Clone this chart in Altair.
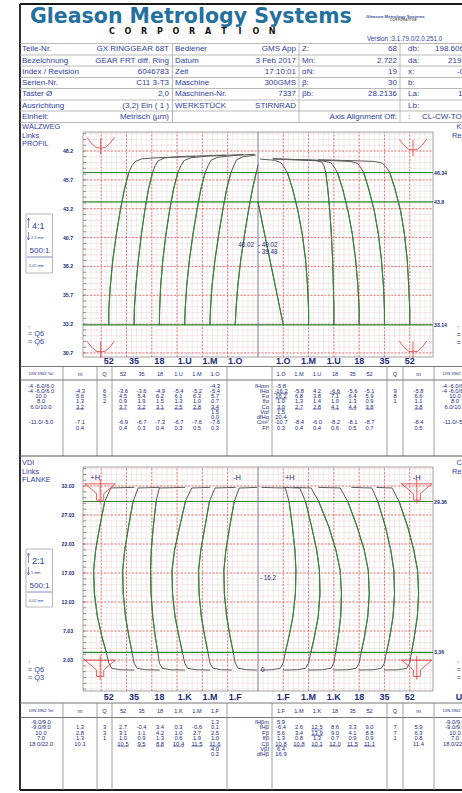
import altair as alt
import numpy as np
import pandas as pd

W, H = 462, 793
FONT = "Liberation Sans"
NAVY = "#1d2b7e"
BLUE = "#2f42a0"
TITLE_BLUE = "#24709e"
GREEN = "#2e8b36"
TRACE = "#5a5a5a"
RED = "#e24b4b"
MINOR = "#e6d3d3"

# ---------------- report header ----------------
HEAD_ROWS = [49, 60.5, 71.5, 83, 94, 105.5, 116.5]
HEAD_LINES = [43.5, 55, 66, 77.5, 88.5, 100, 111, 122.5]
PART_LABELS = ["Teile-Nr.", "Bezeichnung", "Index / Revision", "Serien-Nr.", "Taster Ø", "Ausrichtung", "Einheit:"]
PART_VALUES = ["GX RINGGEAR 68T", "GEAR FRT diff. Ring", "6046783", "C11 3-T3", "2,0", "(3,2) Ein ( 1 )", "Metrisch (µm)"]
RUN_LABELS = ["Bediener", "Datum", "Zeit", "Maschine", "Maschinen-Nr.", "WERKSTÜCK", ""]
RUN_VALUES = ["GMS App", "3 Feb 2017", "17:10:01", "300GMS", "7337", "STIRNRAD", ""]
GEAR_LABELS = ["Z:", "Mn:", "αN:", "β:", "βb:", "", ""]
GEAR_VALUES = ["68", "2.722", "19", "30", "28.2136", "", "Axis Alignment Off:"]
DIM_LABELS = ["db:", "da:", "x:", "b:", "La:", "Lb:", ":"]
DIM_VALUES = ["198.6068", "219.32", "-0.10", "", "14", "", "CL-CW-TOOTH"]
DIM_VALUE_X = [435, 448, 457, 457, 458, 458, 422]
VERSION = "Version :3.1.79.0/2.0.251.0"

# ---------------- profile diagram (upper) ----------------
PROFILE_TICKS = [48.2, 45.7, 43.2, 40.7, 38.2, 35.7, 33.2, 30.7]
PROFILE_LIMITS = [46.34, 43.8, 33.14]
PROFILE_LEFT_NAMES = ["52", "35", "18", "1.U", "1.M", "1.O"]
PROFILE_RIGHT_NAMES = ["1.O", "1.M", "1.U", "18", "35", "52"]
LEFT_BASES = [-5.9, -4.9, -3.9, -2.9, -1.9, -0.9]
RIGHT_BASES = [1, 2, 3, 4, 5, 6]
LEFT_GRID = [-6.2, -5.2, -4.2, -3.2, -2.2, -1.2]
RIGHT_GRID = [1, 2, 3, 4, 5, 6]
PROFILE_CENTER_LEFT = 40.02
PROFILE_CENTER_RIGHT = [40.02, 39.48]

# (deviation, roll length) per tooth
PROFILE_LEFT_TRACES = [
    [(0.00, 33.14), (0.00, 34.5), (0.06, 36.5), (0.16, 38.8), (0.30, 41.0), (0.45, 43.0), (0.62, 44.9), (0.79, 46.34), (0.92, 46.95), (1.05, 47.3), (1.30, 47.52), (1.90, 47.62), (3.40, 47.72)],
    [(0.00, 33.14), (0.01, 34.5), (0.07, 36.5), (0.17, 38.8), (0.29, 41.0), (0.42, 43.0), (0.57, 44.9), (0.73, 46.34), (0.84, 46.95), (0.95, 47.35), (1.20, 47.6), (1.80, 47.72), (3.60, 47.85)],
    [(0.00, 33.14), (0.01, 34.5), (0.05, 36.5), (0.14, 38.8), (0.26, 41.0), (0.40, 43.0), (0.56, 44.9), (0.73, 46.34), (0.86, 46.95), (0.98, 47.38), (1.25, 47.62), (1.90, 47.76), (3.30, 47.9)],
    [(0.00, 33.14), (0.02, 34.5), (0.08, 36.5), (0.19, 38.8), (0.33, 41.0), (0.48, 43.0), (0.64, 44.9), (0.81, 46.34), (0.93, 46.95), (1.04, 47.4), (1.30, 47.66), (1.90, 47.8), (2.75, 47.92)],
    [(0.00, 33.14), (0.02, 34.5), (0.08, 36.5), (0.20, 38.8), (0.35, 41.0), (0.50, 43.0), (0.66, 44.9), (0.83, 46.34), (0.95, 46.95), (1.05, 47.45), (1.30, 47.7), (1.80, 47.85)],
    [(0.00, 33.14), (0.03, 34.5), (0.10, 36.5), (0.22, 38.8), (0.37, 41.0), (0.52, 43.0), (0.68, 44.9), (0.83, 46.34), (0.90, 47.0)],
]
PROFILE_RIGHT_TRACES = [
    [(0.00, 33.14), (-0.10, 34.2), (-0.24, 35.7), (-0.40, 37.4), (-0.57, 39.2), (-0.74, 41.0), (-0.88, 42.5), (-1.00, 43.8)],
    [(0.00, 33.14), (0.00, 34.5), (-0.04, 36.5), (-0.12, 38.8), (-0.25, 41.0), (-0.42, 43.0), (-0.63, 44.9), (-0.84, 46.34), (-0.98, 46.85), (-1.10, 47.2), (-1.35, 47.4), (-1.90, 47.5)],
    [(0.00, 33.14), (0.00, 34.5), (-0.02, 36.5), (-0.05, 38.8), (-0.10, 41.0), (-0.16, 43.0), (-0.24, 44.9), (-0.32, 46.34), (-0.38, 46.85), (-0.46, 47.22), (-0.70, 47.38), (-1.40, 47.45), (-2.40, 47.55)],
    [(0.00, 33.14), (0.00, 34.5), (-0.05, 36.5), (-0.14, 38.8), (-0.27, 41.0), (-0.44, 43.0), (-0.65, 44.9), (-0.86, 46.34), (-1.00, 46.85), (-1.12, 47.18), (-1.40, 47.33), (-2.10, 47.4), (-3.40, 47.5)],
    [(0.00, 33.14), (0.00, 34.5), (-0.04, 36.5), (-0.12, 38.8), (-0.24, 41.0), (-0.40, 43.0), (-0.62, 44.9), (-0.82, 46.34), (-0.96, 46.85), (-1.08, 47.15), (-1.35, 47.3), (-2.10, 47.37), (-3.50, 47.47)],
    [(0.00, 33.14), (0.00, 34.5), (-0.04, 36.5), (-0.10, 38.8), (-0.21, 41.0), (-0.36, 43.0), (-0.58, 44.9), (-0.79, 46.34), (-0.95, 46.85), (-1.08, 47.15), (-1.40, 47.3), (-2.20, 47.36), (-3.60, 47.45)],
]

# ---------------- lead diagram (lower) ----------------
LEAD_TICKS = [32.03, 27.03, 22.03, 17.03, 12.03, 7.03, 2.03]
LEAD_LIMITS = [29.36, 3.36]
LEAD_LEFT_NAMES = ["52", "35", "18", "1.K", "1.M", "1.F"]
LEAD_RIGHT_NAMES = ["1.F", "1.M", "1.K", "18", "35", "52"]
LEAD_CENTER = 16.2
LEAD_ZERO = 0.3
LEAD_H_MARKS = [(-6.44, "+H"), (-0.83, "-H"), (1.26, "+H"), (6.28, "-H")]

LEAD_LEFT_TRACES = [
    [(1.00, 31.8), (0.30, 31.72), (0.08, 31.7), (-0.16, 29.36), (-0.36, 25.0), (-0.52, 21.0), (-0.60, 17.5), (-0.57, 13.5), (-0.45, 9.5), (-0.27, 6.0), (-0.10, 3.36), (0.00, 1.5), (0.12, 0.6), (0.45, 0.35), (1.00, 0.3)],
    [(1.00, 31.8), (0.40, 31.72), (0.16, 31.7), (-0.04, 29.36), (-0.22, 25.0), (-0.37, 21.0), (-0.45, 17.5), (-0.43, 13.5), (-0.34, 9.5), (-0.20, 6.0), (-0.08, 3.36), (0.00, 1.5), (0.12, 0.6), (0.45, 0.35), (1.00, 0.3)],
    [(1.00, 31.8), (0.30, 31.72), (0.00, 31.7), (-0.13, 29.36), (-0.24, 25.0), (-0.32, 21.0), (-0.35, 17.5), (-0.33, 13.5), (-0.26, 9.5), (-0.16, 6.0), (-0.06, 3.36), (0.00, 1.5), (0.12, 0.6), (0.45, 0.35), (1.00, 0.3)],
    [(1.00, 31.8), (0.50, 31.72), (0.28, 31.7), (0.03, 29.36), (-0.20, 25.0), (-0.40, 21.0), (-0.50, 17.5), (-0.48, 13.5), (-0.38, 9.5), (-0.22, 6.0), (-0.09, 3.36), (0.00, 1.5), (0.12, 0.6), (0.45, 0.35), (1.00, 0.3)],
    [(1.00, 31.8), (0.45, 31.72), (0.20, 31.7), (-0.02, 29.36), (-0.20, 25.0), (-0.36, 21.0), (-0.45, 17.5), (-0.43, 13.5), (-0.34, 9.5), (-0.20, 6.0), (-0.08, 3.36), (0.00, 1.5), (0.12, 0.6), (0.45, 0.35), (0.85, 0.3)],
    [(0.85, 31.8), (0.40, 31.72), (0.16, 31.7), (-0.04, 29.36), (-0.22, 25.0), (-0.37, 21.0), (-0.45, 17.5), (-0.43, 13.5), (-0.34, 9.5), (-0.20, 6.0), (-0.08, 3.36), (0.00, 1.5), (0.12, 0.6), (0.45, 0.35), (0.85, 0.3)],
]
LEAD_RIGHT_TRACES = [
    [(-0.85, 31.8), (-0.30, 31.72), (0.08, 31.7), (0.23, 29.36), (0.36, 25.0), (0.46, 21.0), (0.50, 17.5), (0.48, 13.5), (0.38, 9.5), (0.22, 6.0), (0.08, 3.36), (0.00, 1.5), (-0.12, 0.6), (-0.45, 0.35), (-0.90, 0.3)],
    [(-1.00, 31.8), (-0.60, 31.72), (-0.35, 31.7), (-0.12, 29.36), (0.12, 25.0), (0.32, 21.0), (0.43, 17.5), (0.45, 13.5), (0.38, 9.5), (0.23, 6.0), (0.09, 3.36), (0.00, 1.5), (-0.12, 0.6), (-0.45, 0.35), (-1.00, 0.3)],
    [(-1.60, 31.8), (-1.10, 31.72), (-0.90, 31.7), (-0.60, 29.36), (-0.20, 25.0), (0.08, 21.0), (0.25, 17.5), (0.30, 13.5), (0.27, 9.5), (0.17, 6.0), (0.07, 3.36), (0.00, 1.5), (-0.12, 0.6), (-0.45, 0.35), (-1.00, 0.3)],
    [(-1.60, 31.8), (-1.00, 31.72), (-0.75, 31.7), (-0.45, 29.36), (-0.08, 25.0), (0.20, 21.0), (0.36, 17.5), (0.40, 13.5), (0.34, 9.5), (0.21, 6.0), (0.08, 3.36), (0.00, 1.5), (-0.12, 0.6), (-0.45, 0.35), (-1.00, 0.3)],
    [(-1.30, 31.8), (-0.80, 31.72), (-0.50, 31.7), (-0.26, 29.36), (0.04, 25.0), (0.25, 21.0), (0.37, 17.5), (0.40, 13.5), (0.34, 9.5), (0.21, 6.0), (0.08, 3.36), (0.00, 1.5), (-0.12, 0.6), (-0.45, 0.35), (-1.00, 0.3)],
    [(-1.30, 31.8), (-0.95, 31.72), (-0.70, 31.7), (-0.42, 29.36), (-0.08, 25.0), (0.16, 21.0), (0.31, 17.5), (0.35, 13.5), (0.30, 9.5), (0.18, 6.0), (0.07, 3.36), (0.00, 1.5), (-0.12, 0.6), (-0.45, 0.35), (-1.00, 0.3)],
]

# tolerance symbols (outline offsets and where they sit)
V_SYMBOL = [(-0.53, 0.9), (-0.38, 0.45), (-0.18, 0.05), (0.0, 0.0), (0.18, 0.05), (0.38, 0.45), (0.53, 0.9)]
V_STEM = [(0.0, 0.85), (0.0, -0.5)]
V_ANCHORS = [(-6.22, 48.45), (-6.22, 30.8), (6.13, 48.3), (6.13, 30.8)]
FUNNEL = [(-0.6, 0.0), (0.6, 0.0), (0.35, -0.9), (0.14, -1.7), (0.14, -2.8), (-0.14, -2.8), (-0.14, -1.7), (-0.35, -0.9), (-0.6, 0.0)]
FUNNEL_STEM = [(0.0, 0.7), (0.0, -3.3)]
FUNNEL_ANCHORS = [(-6.24, 32.4), (-6.24, 2.0), (6.28, 32.4), (6.28, 2.0)]

# ---------------- evaluation tables ----------------
PROFILE_PARAMS = ["fHαm", "fHα", "Fα", "ffα", "Cα", "Vαf", "dfHα", "Cm¹⁾", "Ff!"]
PROFILE_TOL = ["-4 -6.0/6.0", "-4 -6.0/6.0", "10.0", "8.0", "6.0/10.0", "", "", "-11.0/-5.0", ""]
PROFILE_LEFT_VALUES = [
    ["", "", "", "", "", "-4.3"],
    ["-3.6", "-3.6", "-4.9", "-5.4", "-5.2", "-5.4"],
    ["4.5", "5.4", "6.2", "6.1", "6.3", "5.7"],
    ["0.9", "1.9", "1.5", "1.3", "1.0", "0.7"],
    ["3.7", "3.2", "3.1", "2.5", "2.8", "3.4"],
    ["", "", "", "", "", "1.5"],
    ["", "", "", "", "", "0.0"],
    ["-6.9", "-6.7", "-7.3", "-6.7", "-7.6", "-7.6"],
    ["0.4", "0.3", "0.4", "0.3", "0.5", "0.3"],
]
PROFILE_LEFT_M = ["", "-4.3", "5.6", "1.3", "3.2", "", "", "-7.1", "0.4"]
PROFILE_LEFT_Q = ["", "6", "5", "2", "", "", "", "", ""]
PROFILE_RIGHT_VALUES = [
    ["-5.8", "", "", "", "", ""],
    ["-16.2", "-5.8", "4.2", "-6.6", "-5.6", "-5.1"],
    ["16.2", "6.8", "3.8", "7.1", "6.4", "5.9"],
    ["1.0", "1.3", "1.4", "1.0", "1.3", "0.9"],
    ["3.0", "2.7", "2.8", "4.1", "4.4", "3.8"],
    ["1.5", "", "", "", "", ""],
    ["20.4", "", "", "", "", ""],
    ["-10.7", "-8.4", "-6.0", "-8.2", "-8.1", "-8.7"],
    ["0.3", "0.4", "0.4", "0.6", "0.5", "0.7"],
]
PROFILE_RIGHT_M = ["", "-5.8", "6.6", "1.1", "3.8", "", "", "-8.4", "0.5"]
PROFILE_RIGHT_Q = ["", "9", "8", "1", "", "", "", "", ""]
PROFILE_LEFT_MARKED = [(4, c) for c in range(6)] + [(4, "m")]
PROFILE_RIGHT_MARKED = [(4, c) for c in range(6)] + [(1, 0), (2, 0), (1, 3), (4, "m")]

LEAD_PARAMS = ["fHβm", "fHβ", "Fβ", "ffβ", "Cβ", "Vβf", "dfHβ"]
LEAD_TOL = ["-9.0/9.0", "-9.0/9.0", "10.0", "7.0", "18.0/22.0", "", ""]
LEAD_LEFT_VALUES = [
    ["", "", "", "", "", "1.3"],
    ["2.7", "-0.4", "3.4", "0.3", "-0.6", "0.1"],
    ["3.1", "1.1", "4.2", "1.0", "2.7", "2.5"],
    ["1.0", "0.9", "1.3", "0.6", "1.9", "1.0"],
    ["10.5", "9.5", "8.8", "10.4", "11.5", "11.6"],
    ["", "", "", "", "", "4.0"],
    ["", "", "", "", "", "0.2"],
]
LEAD_LEFT_M = ["", "1.3", "2.8", "1.3", "10.1", "", ""]
LEAD_LEFT_Q = ["", "3", "3", "1", "", "", ""]
LEAD_RIGHT_VALUES = [
    ["5.9", "", "", "", "", ""],
    ["-6.4", "2.6", "12.5", "8.6", "3.3", "9.0"],
    ["5.6", "3.4", "13.9", "9.0", "4.1", "8.8"],
    ["1.3", "0.8", "1.3", "0.7", "0.9", "0.9"],
    ["10.8", "10.8", "10.1", "12.0", "11.5", "11.1"],
    ["6.4", "", "", "", "", ""],
    ["16.9", "", "", "", "", ""],
]
LEAD_RIGHT_M = ["", "5.9", "6.3", "0.8", "11.4", "", ""]
LEAD_RIGHT_Q = ["", "7", "7", "1", "", "", ""]
LEAD_LEFT_MARKED = [(4, c) for c in range(6)]
LEAD_RIGHT_MARKED = [(4, c) for c in range(6)] + [(1, 2), (2, 2)]

# ---------------- layout ----------------
LAYOUT_X = ([0, W], [0, W])
LAYOUT_Y = ([0, H], [0, H])
PLOT_X = ([-6.92, 6.92], [83, 433])
PROFILE_Y = ([30.35, 49.85], [357, 132])
LEAD_Y = ([-3.31, 35.31], [691, 467])

COL_LABEL_X = [22, 175, 302, 408]
COL_VALUE_RIGHT = [169, 296, 397]
HEAD_VLINES = [172.5, 299, 400]

TOL_L, M_L, Q_L = 41, 80, 104.5
VALS_L = [123, 141.5, 160, 178.5, 197, 215]
PARAM_RIGHT = 269
VALS_R = [281, 299, 317, 335, 352.5, 369.5]
Q_R, M_R, TOL_R = 395, 418.5, 455
TABLE_VLINES = [63, 97, 112, 227, 272, 387, 403, 434]

layers = []


def scale(spec):
    dom, rng = spec
    return alt.Scale(domain=list(dom), range=list(rng), nice=False, zero=False)


def rules(rows, xs=LAYOUT_X, ys=LAYOUT_Y, color="#555555", width=1.0, dash=None):
    df = pd.DataFrame(list(rows), columns=["x", "y", "x2", "y2"])
    mark = {"color": color, "strokeWidth": width}
    if dash is not None:
        mark["strokeDash"] = dash
    layers.append(
        alt.Chart(df).mark_rule(**mark).encode(
            x=alt.X("x:Q", scale=scale(xs), axis=None),
            y=alt.Y("y:Q", scale=scale(ys), axis=None),
            x2="x2:Q",
            y2="y2:Q",
        )
    )


def texts(rows, size, color=BLUE, xs=LAYOUT_X, ys=LAYOUT_Y, align="center",
          weight="normal", font=FONT, baseline="middle"):
    rows = [r for r in rows if str(r[2]) != ""]
    if not rows:
        return
    df = pd.DataFrame(rows, columns=["x", "y", "t"])
    layers.append(
        alt.Chart(df).mark_text(
            fontSize=size, color=color, align=align, baseline=baseline,
            fontWeight=weight, font=font,
        ).encode(
            x=alt.X("x:Q", scale=scale(xs), axis=None),
            y=alt.Y("y:Q", scale=scale(ys), axis=None),
            text=alt.Text("t:N"),
        )
    )


def paths(rows, xs, ys, color, width, keep=None):
    df = pd.DataFrame(rows, columns=["g", "i", "x", "y"])
    base = alt.Chart(df)
    if keep is not None:
        base = base.transform_filter(f"datum.y >= {keep[0]} && datum.y <= {keep[1]}")
    layers.append(
        base.mark_line(color=color, strokeWidth=width, strokeJoin="round", strokeCap="round").encode(
            x=alt.X("x:Q", scale=scale(xs), axis=None),
            y=alt.Y("y:Q", scale=scale(ys), axis=None),
            detail="g:N",
            order="i:Q",
        )
    )


def trace_rows(tag, bases, shapes):
    rows = []
    for k, (base, shape) in enumerate(zip(bases, shapes)):
        for i, (dev, pos) in enumerate(shape):
            rows.append((f"{tag}{k}", i, base + dev, pos))
    return rows


def symbol_rows(tag, outline, anchors):
    rows = []
    for k, (ax, ay) in enumerate(anchors):
        for i, (dx, dy) in enumerate(outline):
            rows.append((f"{tag}{k}", i, ax + dx, ay + dy))
    return rows


def diagram(ys, ticks, tick_fmt, minor_y, limits, left_traces, right_traces, keep):
    lo, hi = ys[0]
    # fine millimetre grid
    minor_x = np.round(np.arange(-6.8, 6.81, 0.2), 3)
    rules([(x, lo, x, hi) for x in minor_x], PLOT_X, ys, MINOR, 0.5)
    rules([(-6.92, y, 6.92, y) for y in minor_y], PLOT_X, ys, MINOR, 0.5)
    # main grid
    rules([(x, lo, x, hi) for x in LEFT_GRID + RIGHT_GRID], PLOT_X, ys, RED, 0.7, [2, 1.5])
    rules([(-6.92, y, 6.92, y) for y in ticks], PLOT_X, ys, RED, 0.7, [2, 1.5])
    # ruler ticks along the left edge
    rules([(-6.92, y, -6.8, y) for y in minor_y], PLOT_X, ys, "#555555", 0.6)
    # frame and centre line
    rules([(-6.92, lo, 6.92, lo), (-6.92, hi, 6.92, hi), (-6.92, lo, -6.92, hi), (6.92, lo, 6.92, hi)],
          PLOT_X, ys, "#8a8a8a", 0.8)
    rules([(0, lo, 0, hi)], PLOT_X, ys, "#8d8cab", 1.1)
    # evaluation limits
    rules([(-6.92, y, 6.92, y) for y in limits], PLOT_X, ys, GREEN, 1.2)
    # traces: full record in grey, evaluation range in green
    rows = trace_rows("l", LEFT_BASES, left_traces) + trace_rows("r", RIGHT_BASES, right_traces)
    paths(rows, PLOT_X, ys, TRACE, 1.0)
    paths(rows, PLOT_X, ys, GREEN, 1.1, keep)
    # tick labels and limit labels
    texts([(68, v, tick_fmt(v)) for v in ticks], 5.2, NAVY, LAYOUT_X, ys, weight="bold")
    texts([(434, v, f"{v}") for v in limits], 5.2, NAVY, LAYOUT_X, ys, align="left", weight="bold")


# ---------- outer frame and header ----------
rules([(20, 4, 462, 4), (20, 4, 20, 790), (20, 790, 462, 790)], color="#1a1a1a", width=1.8)
texts([(30, 22.5, "Gleason Metrology Systems")], 20.5, TITLE_BLUE, align="left", weight="bold",
      font="DejaVu Sans", baseline="alphabetic")
texts([(112 + 16 * i, 34, ch) for i, ch in enumerate("CORPORATION")], 8, "#111111",
      weight="bold", font="DejaVu Sans", baseline="alphabetic")
texts([(366, 16.5, "Gleason Metrology Systems")], 4.4, "#3656a0", align="left", weight="bold")
texts([(390, 20.5, "C O R P O R A T I O N")], 2.6, "#333333", align="left", weight="bold")
texts([(367, 39, VERSION)], 6.3, BLUE, align="left")

rules([(20, y, 462, y) for y in HEAD_LINES], color="#a8a8a8", width=0.8)
rules([(x, HEAD_LINES[0], x, HEAD_LINES[-1]) for x in HEAD_VLINES], color="#a8a8a8", width=0.8)
head_left = []
head_right = []
for r, y in enumerate(HEAD_ROWS):
    head_left += [(COL_LABEL_X[0], y, PART_LABELS[r]), (COL_LABEL_X[1], y, RUN_LABELS[r]),
                  (COL_LABEL_X[2], y, GEAR_LABELS[r]), (COL_LABEL_X[3], y, DIM_LABELS[r]),
                  (DIM_VALUE_X[r], y, DIM_VALUES[r])]
    head_right += [(COL_VALUE_RIGHT[0], y, PART_VALUES[r]), (COL_VALUE_RIGHT[1], y, RUN_VALUES[r]),
                   (COL_VALUE_RIGHT[2], y, GEAR_VALUES[r])]
texts(head_left, 8, BLUE, align="left")
texts(head_right, 8, BLUE, align="right")

# ---------- profile section ----------
diagram(PROFILE_Y, PROFILE_TICKS, lambda v: f"{v:.1f}",
        np.round(np.arange(30.7, 49.75, 0.5), 3), PROFILE_LIMITS,
        PROFILE_LEFT_TRACES, PROFILE_RIGHT_TRACES, (33.14, 46.34))
paths(symbol_rows("v", V_SYMBOL, V_ANCHORS), PLOT_X, PROFILE_Y, RED, 0.9)
paths(symbol_rows("s", V_STEM, V_ANCHORS), PLOT_X, PROFILE_Y, RED, 0.9)
texts([(254, PROFILE_CENTER_LEFT, f"{PROFILE_CENTER_LEFT:.2f}")], 6.3, NAVY, LAYOUT_X, PROFILE_Y, align="right")
texts([(258, v, f"- {v:.2f}") for v in PROFILE_CENTER_RIGHT], 6.3, NAVY, LAYOUT_X, PROFILE_Y, align="left")
texts([(b, 361, n) for b, n in zip(LEFT_BASES + RIGHT_BASES, PROFILE_LEFT_NAMES + PROFILE_RIGHT_NAMES)],
      9, NAVY, PLOT_X, LAYOUT_Y, weight="bold")

# ---------- lead section ----------
diagram(LEAD_Y, LEAD_TICKS, lambda v: f"{v:.2f}",
        np.round(np.arange(-2.97, 35.1, 1.0), 3), LEAD_LIMITS,
        LEAD_LEFT_TRACES, LEAD_RIGHT_TRACES, (3.36, 29.36))
paths(symbol_rows("f", FUNNEL, FUNNEL_ANCHORS), PLOT_X, LEAD_Y, RED, 0.9)
paths(symbol_rows("t", FUNNEL_STEM, FUNNEL_ANCHORS), PLOT_X, LEAD_Y, RED, 0.9)
texts([(x, 33.45, t) for x, t in LEAD_H_MARKS], 7.5, NAVY, PLOT_X, LEAD_Y)
texts([(260, LEAD_CENTER, f"- {LEAD_CENTER}")], 6.3, NAVY, LAYOUT_X, LEAD_Y, align="left")
texts([(261, LEAD_ZERO, "0")], 6.3, NAVY, LAYOUT_X, LEAD_Y, align="left")
texts([(b, 697, n) for b, n in zip(LEFT_BASES + RIGHT_BASES, LEAD_LEFT_NAMES + LEAD_RIGHT_NAMES)],
      9, NAVY, PLOT_X, LAYOUT_Y, weight="bold")
texts([(459, 697, "U")], 9, NAVY, weight="bold")

# ---------- side annotations ----------
texts([(22, 127, "WÄLZWEG"), (22, 135.5, "Links"), (22, 144, "PROFIL"),
       (22, 463, "VDI"), (22, 471.5, "Links"), (22, 480, "FLANKE"),
       (28, 334, "= Q6"), (28, 342, "= Q6"), (28, 670, "= Q6"), (28, 678, "= Q3"),
       (456.5, 127, "KOPF"), (452, 136, "Rechts"), (456.5, 463, "C"), (452, 472, "Rechts"),
       (456.5, 335, "= Q9"), (456.5, 343, "= Q8"), (456.5, 670, "= Q7"), (456.5, 678, "= Q7")],
      7.4, BLUE, align="left")
texts([(29, 326.5, "↑"), (29, 662, "↑"), (458, 326.5, "↑"), (458, 662, "↑")], 5.5, BLUE)
for top, bottom, ratio, step, title_y in [(214, 273, "4:1", "2.5 mm", 226), (549, 607, "2:1", "5 mm", 561)]:
    rules([(26, top, 52.5, top), (52.5, top, 52.5, bottom), (52.5, bottom, 26, bottom), (26, bottom, 26, top)],
          color="#9a9a9a", width=0.7)
    rules([(28.5, title_y - 8, 28.5, title_y + 2), (27.3, title_y - 5.5, 28.5, title_y - 8),
           (29.7, title_y - 5.5, 28.5, title_y - 8), (28.5, title_y + 6, 28.5, title_y + 14),
           (27.3, title_y + 11.5, 28.5, title_y + 14), (29.7, title_y + 11.5, 28.5, title_y + 14),
           (27, title_y + 31, 52, title_y + 31)],
          color=BLUE, width=0.6)
    texts([(32, title_y, ratio)], 9, BLUE, align="left")
    texts([(31, title_y + 12, step), (29, title_y + 40, "0.02 mm")], 3.8, BLUE, align="left")
    texts([(39.5, title_y + 25, "500:1")], 8, BLUE)

# ---------- evaluation tables ----------
def table(top, bottom, head_y, line_y, rows_y, lnames, rnames, params, tol,
          lvals, lm, lq, rvals, rm, rq, lmarked, rmarked):
    rules([(20, top, 462, top), (20, line_y, 462, line_y)], color="#666666", width=0.9)
    rules([(x, top, x, bottom) for x in TABLE_VLINES], color="#888888", width=0.8)
    texts([(TOL_L, head_y, "DIN 3962 Tol"), (TOL_R, head_y, "DIN 3962 Tol")], 4.2, NAVY)
    hdr = [(M_L, head_y, "m"), (Q_L, head_y, "Q"), (Q_R, head_y, "Q"), (M_R, head_y, "m")]
    hdr += list(zip(VALS_L, [head_y] * 6, lnames)) + list(zip(VALS_R, [head_y] * 6, rnames))
    texts(hdr, 5.6, NAVY)
    body = []
    for r, y in enumerate(rows_y):
        body += [(TOL_L, y, tol[r]), (M_L, y, lm[r]), (Q_L, y, lq[r]),
                 (Q_R, y, rq[r]), (M_R, y, rm[r]), (TOL_R, y, tol[r])]
        body += [(VALS_L[c], y, lvals[r][c]) for c in range(6)]
        body += [(VALS_R[c], y, rvals[r][c]) for c in range(6)]
    texts(body, 5.8, NAVY)
    texts([(PARAM_RIGHT, y, p) for y, p in zip(rows_y, params)], 5.8, NAVY, align="right")
    marks = []
    for marked, xs, vals, mcol, mx in [(lmarked, VALS_L, lvals, lm, M_L), (rmarked, VALS_R, rvals, rm, M_R)]:
        for r, c in marked:
            cx, t = (mx, mcol[r]) if c == "m" else (xs[c], vals[r][c])
            hw = 1.4 * len(t)
            marks.append((cx - hw, rows_y[r] + 2.7, cx + hw, rows_y[r] + 2.7))
    rules(marks, color=NAVY, width=0.5)


table(366.5, 456, 374, 380, [385.5 + 5.25 * i for i in range(9)],
      PROFILE_LEFT_NAMES, PROFILE_RIGHT_NAMES, PROFILE_PARAMS, PROFILE_TOL,
      PROFILE_LEFT_VALUES, PROFILE_LEFT_M, PROFILE_LEFT_Q,
      PROFILE_RIGHT_VALUES, PROFILE_RIGHT_M, PROFILE_RIGHT_Q,
      PROFILE_LEFT_MARKED, PROFILE_RIGHT_MARKED)
rules([(20, 456, 462, 456)], color="#555555", width=1.0)
table(703, 790, 711, 717.5, [722 + 5.4 * i for i in range(7)],
      LEAD_LEFT_NAMES, LEAD_RIGHT_NAMES, LEAD_PARAMS, LEAD_TOL,
      LEAD_LEFT_VALUES, LEAD_LEFT_M, LEAD_LEFT_Q,
      LEAD_RIGHT_VALUES, LEAD_RIGHT_M, LEAD_RIGHT_Q,
      LEAD_LEFT_MARKED, LEAD_RIGHT_MARKED)

chart = (
    alt.layer(*layers)
    .properties(width=W, height=H, padding=0, background="white",
                autosize=alt.AutoSizeParams(type="none"))
    .resolve_scale(x="independent", y="independent")
    .configure_view(stroke=None)
)
chart.save("out.html", embed_options={"renderer": "svg", "actions": False})
